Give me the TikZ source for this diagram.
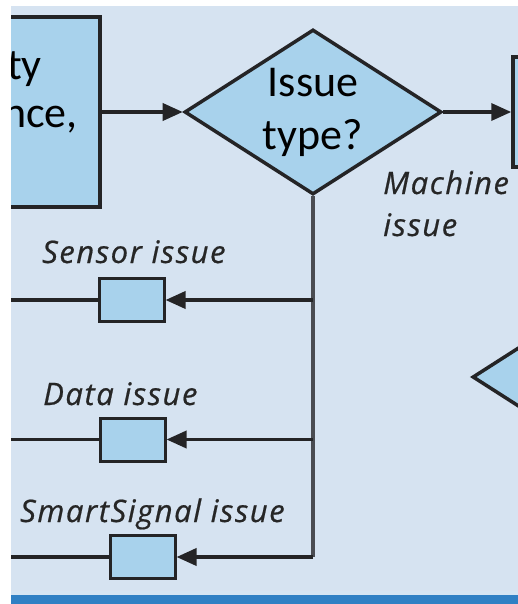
\documentclass[tikz,border=0pt]{standalone}
\usepackage{fontspec}
\setmainfont{Carlito}
\newfontfamily\labelfont[LetterSpace=5, FakeBold=0.6]{Open Sans}
\usepackage{xcolor}
\usepackage{tikz}
\usetikzlibrary{shapes.geometric, arrows.meta, positioning}
\definecolor{paper}{RGB}{214,227,241}
\definecolor{boxfill}{RGB}{168,210,236}
\definecolor{inkline}{RGB}{36,36,38}
\definecolor{stemgray}{RGB}{74,76,82}
\definecolor{bandblue}{RGB}{47,128,196}
\tikzstyle{process} = [rectangle, draw=inkline, line width=3.5pt, fill=boxfill]
\tikzstyle{decision} = [diamond, draw=inkline, line width=3.5pt, fill=boxfill, aspect=1.56, inner sep=0pt, minimum width=257pt, minimum height=165pt, align=center, font=\fontsize{44}{53}\selectfont]
\tikzstyle{smallbox} = [rectangle, draw=inkline, line width=3pt, fill=boxfill, minimum width=65pt, minimum height=43pt]
\tikzstyle{boxtext} = [anchor=base east, inner sep=0pt, font=\fontsize{44}{53}\selectfont]
\tikzstyle{branchlabel} = [anchor=base west, inner sep=0pt, text=black!85, font=\labelfont\fontsize{31}{38}\selectfont\itshape]
\tikzstyle{arrow} = [line width=3.5pt, draw=inkline, -{Triangle[length=20pt,width=17pt]}]
\tikzstyle{stem} = [line width=3.2pt, draw=stemgray]

\begin{document}
\begin{tikzpicture}[x=1pt, y=-1pt]
    % sheet with its white edge and the blue band at the foot
    \useasboundingbox (0,0) rectangle (518,604);
    \fill[white] (0,0) rectangle (518,604);
    \fill[paper] (11,6) rectangle (518,594);
    \fill[bandblue!20!white] (11,591) rectangle (518,595);
    \fill[bandblue] (11,595) rectangle (518,604);

    \begin{scope}
        \clip (11,6) rectangle (518,591);
        \node (source) [process, minimum width=300pt, minimum height=190pt] at (-50,112) {};
        \node (sourcetop) [boxtext] at (42,80) {ty};
        \node (sourcebot) [boxtext] at (78,128) {nce,};
        \node (type) [decision] at (313,112) {Issue\\type?};
        \node (machine) [process, minimum width=200pt, minimum height=110pt] at (613,112) {};
        \node (nextcheck) [decision] at (601,377) {};

        \node (sensor) [smallbox] at (131.5,300) {};
        \node (data) [smallbox] at (132.5,439.5) {};
        \node (smart) [smallbox] at (142.5,557) {};
        \coordinate (corner) at (313,557);
        \coordinate (sensorout) at (-10,300);
        \coordinate (dataout) at (-10,439.5);
        \coordinate (smartout) at (-10,557);

        \draw [arrow] (source) -- (type);
        \draw [arrow] (type) -- (machine);

        % issue branches off the stem
        \draw [stem] (type.south) -- (corner);
        \draw [arrow] (type.south |- sensor) -- (sensor);
        \draw [arrow] (type.south |- data) -- (data);
        \draw [arrow] (corner) -- (smart);
        \draw [line width=3.5pt, draw=inkline] (sensor) -- (sensorout);
        \draw [line width=3.5pt, draw=inkline] (data) -- (dataout);
        \draw [line width=3.5pt, draw=inkline] (smart) -- (smartout);

        \node (machinelbl) [branchlabel] at (383,194) {Machine};
        \node (machinelbl2) [branchlabel] at (383,236) {issue};
        \node (sensorlbl) [branchlabel] at (42,263) {Sensor issue};
        \node (datalbl) [branchlabel] at (43,405) {Data issue};
        \node (smartlbl) [branchlabel] at (20,522) {SmartSignal issue};
    \end{scope}
\end{tikzpicture}
\end{document}
